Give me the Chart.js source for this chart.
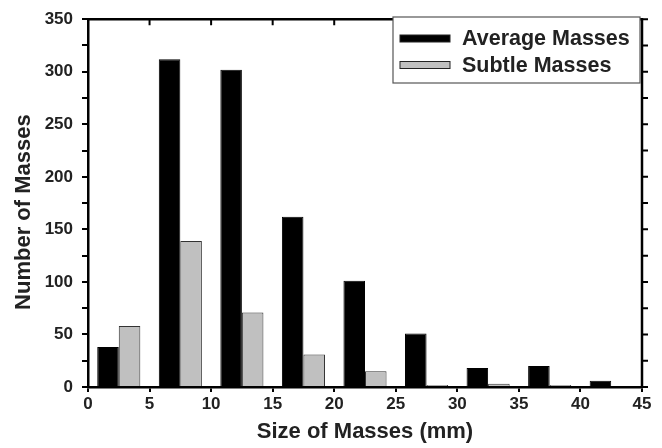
<!DOCTYPE html>
<html>
<head>
<meta charset="utf-8">
<script src="https://cdn.jsdelivr.net/npm/chart.js@4.4.1/dist/chart.umd.min.js"></script>
<style>
  body { margin: 0; background: #fff; }
  canvas { display: block; }
</style>
</head>
<body>
<canvas id="massChart" width="662" height="448"></canvas>
<script>
// bin centres (mm) and counts
const sizeBins = [2.5, 7.5, 12.5, 17.5, 22.5, 27.5, 32.5, 37.5, 42.5];
const averageMasses = [38, 312, 302, 162, 101, 51, 18, 20, 6];
const subtleMasses = [58, 139, 71, 31, 15, 2, 3, 2, 0];
const xTicks = [0, 5, 10, 15, 20, 25, 30, 35, 40, 45];
const yTicks = [0, 50, 100, 150, 200, 250, 300, 350];
const yTitle = 'Number of Masses';

const FONT = "'Liberation Sans', Arial, sans-serif";

// frame on top/right with their tick marks, y title, then the boxed legend
const framePlugin = {
    id: 'frame',
    afterDraw(chart) {
        const ctx = chart.ctx;
        const area = chart.chartArea;
        const xs = chart.scales.x;
        const ys = chart.scales.y;
        ctx.save();
        ctx.strokeStyle = '#000';
        ctx.lineWidth = 2.5;
        ctx.beginPath();
        ctx.moveTo(area.left - 1, area.top);
        ctx.lineTo(area.right, area.top);
        ctx.lineTo(area.right, area.bottom);
        ctx.stroke();

        ctx.lineWidth = 2;
        ctx.beginPath();
        for (let v = 0; v <= 350; v += 25) {
            const py = ys.getPixelForValue(v);
            ctx.moveTo(area.right, py);
            ctx.lineTo(area.right + 6, py);
        }
        for (let i = 1; i < xTicks.length - 1; i++) {
            const px = xs.getPixelForValue(xTicks[i]);
            ctx.moveTo(px, area.top);
            ctx.lineTo(px, area.top + 6);
        }
        ctx.stroke();

        // y title sits a little below the middle of the axis in the original
        ctx.save();
        ctx.translate(23.5, (area.top + area.bottom) / 2 + 9);
        ctx.rotate(-Math.PI / 2);
        ctx.font = 'bold 22px ' + FONT;
        ctx.fillStyle = '#222';
        ctx.textAlign = 'center';
        ctx.textBaseline = 'middle';
        ctx.fillText(yTitle, 0, 0);
        ctx.restore();

        // legend box
        const lx = 393, ly = 17, lw = 247, lh = 66;
        ctx.fillStyle = '#fff';
        ctx.fillRect(lx, ly, lw, lh);
        ctx.strokeStyle = '#555';
        ctx.lineWidth = 1.2;
        ctx.strokeRect(lx, ly, lw, lh);

        ctx.font = 'bold 21.5px ' + FONT;
        ctx.textBaseline = 'middle';
        ctx.textAlign = 'left';
        chart.data.datasets.forEach((ds, i) => {
            const cy = 38.5 + i * 26.5;
            ctx.fillStyle = ds.backgroundColor;
            ctx.fillRect(400, cy - 3.5, 50, 7);
            ctx.strokeStyle = '#222';
            ctx.lineWidth = 1;
            ctx.strokeRect(400, cy - 3.5, 50, 7);
            ctx.fillStyle = '#222';
            ctx.fillText(ds.label, 462, cy + 1);
        });
        ctx.restore();
    }
};

const ctx = document.getElementById('massChart').getContext('2d');
new Chart(ctx, {
    type: 'bar',
    data: {
        datasets: [
            {
                label: 'Average Masses',
                data: sizeBins.map((x, i) => ({ x: x, y: averageMasses[i] })),
                backgroundColor: '#000000',
                borderColor: '#000000',
                borderWidth: 1
            },
            {
                label: 'Subtle Masses',
                data: sizeBins.map((x, i) => ({ x: x, y: subtleMasses[i] })),
                backgroundColor: '#c0c0c0',
                borderColor: '#333333',
                borderWidth: 1
            }
        ]
    },
    options: {
        responsive: false,
        animation: false,
        categoryPercentage: 0.7,
        barPercentage: 1.0,
        layout: { padding: { left: 0, right: 20, top: 17, bottom: 0 } },
        plugins: {
            legend: { display: false },
            tooltip: { enabled: false }
        },
        scales: {
            x: {
                type: 'linear',
                min: 0,
                max: 45,
                offset: false,
                afterFit: s => { s.height = 61; },
                afterBuildTicks: s => { s.ticks = xTicks.map(v => ({ value: v })); },
                grid: {
                    offset: false,
                    drawOnChartArea: false,
                    drawTicks: true,
                    tickLength: 5,
                    color: '#000',
                    lineWidth: 2
                },
                border: { color: '#000', width: 2.5 },
                ticks: {
                    color: '#222',
                    font: { family: FONT, size: 17, weight: 'bold' },
                    padding: 2,
                    maxRotation: 0
                },
                title: {
                    display: true,
                    text: 'Size of Masses (mm)',
                    color: '#222',
                    font: { family: FONT, size: 22, weight: 'bold' },
                    padding: { top: 0, bottom: 3 }
                }
            },
            y: {
                min: 0,
                max: 350,
                afterFit: s => { s.width = 88; },
                grid: {
                    drawOnChartArea: false,
                    drawTicks: true,
                    tickLength: 6,
                    color: '#000',
                    lineWidth: 2
                },
                border: { color: '#000', width: 2.5 },
                ticks: {
                    stepSize: 25,
                    color: '#222',
                    font: { family: FONT, size: 17, weight: 'bold' },
                    padding: 9,
                    callback: v => (yTicks.includes(v) ? v : '')
                },
                title: { display: false }
            }
        }
    },
    plugins: [framePlugin]
});
</script>
</body>
</html>
